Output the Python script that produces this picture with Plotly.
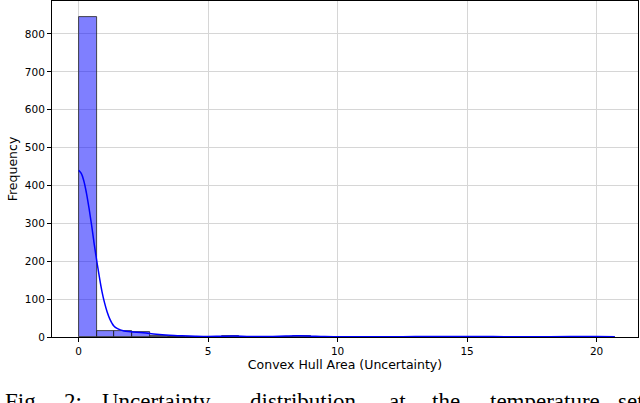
import numpy as np
import plotly.graph_objects as go

# histogram: 30 bins over the observed range
data_min = 0.0
data_max = 20.7
bin_counts = [845, 17, 15, 12, 3, 1, 1, 0, 2, 1, 1, 1, 2, 1, 1,
              1, 0, 0, 1, 1, 1, 1, 1, 1, 0, 0, 1, 1, 1, 1]

# kde curve (scaled to counts)
kde_x = [0, 0.1, 0.2, 0.3, 0.4, 0.5, 0.6, 0.7, 0.8, 0.9, 1.0, 1.1, 1.2, 1.35,
         1.5, 1.75, 2.0, 2.5, 3.0, 3.5, 4.0, 4.5, 5.0, 5.5, 6.0, 6.5, 7.0,
         7.5, 8.0, 8.5, 9.0, 9.5, 10, 11, 12, 13, 14, 15, 16, 17, 18, 19,
         20, 20.7]
kde_y = [440, 432, 412, 380, 340, 295, 245, 200, 158, 120, 90, 66, 48, 30,
         22, 16, 14, 11, 7, 4.5, 3, 2, 1.5, 2, 2.5, 1.5, 1, 1.5, 2.5, 3, 2,
         1, 0.8, 0.8, 0.8, 1, 1.2, 1.5, 1.2, 0.5, 0.8, 1, 1, 0.8]

x_ticks = [0, 5, 10, 15, 20]
y_ticks = [0, 100, 200, 300, 400, 500, 600, 700, 800]

caption_words = ["Fig.", "2:", "Uncertainty", "distribution", "at", "the",
                 "temperature", "set"]
caption_left_px = [3, 62, 100, 248, 387, 430, 488, 616]

edges = np.linspace(data_min, data_max, len(bin_counts) + 1)
centers = (edges[:-1] + edges[1:]) / 2
width = edges[1] - edges[0]

fig = go.Figure()
fig.add_trace(go.Bar(
    x=centers, y=bin_counts, width=width,
    marker=dict(color="rgba(0,0,255,0.5)", line=dict(color="#222222", width=0.8)),
    showlegend=False,
))
fig.add_trace(go.Scatter(
    x=kde_x, y=kde_y, mode="lines",
    line=dict(color="#0000ff", width=1.5, shape="spline"),
    showlegend=False,
))

L, R, T, B = 52, 2, 1, 66
plot_w = 640 - L - R
plot_h = 403 - T - B

for word, px in zip(caption_words, caption_left_px):
    fig.add_annotation(
        text=word, x=(px - L) / plot_w, y=-(387 - (403 - B)) / plot_h,
        xref="paper", yref="paper", xanchor="left", yanchor="top",
        showarrow=False,
        font=dict(family="Liberation Serif", size=23, color="#000000"),
    )

axis_common = dict(
    showline=True, linecolor="#000000", linewidth=1, mirror=True,
    ticks="outside", ticklen=4, tickcolor="#000000",
    showgrid=True, gridcolor="#d6d6d6", gridwidth=1,
    zeroline=False, layer="above traces", automargin=False,
    tickfont=dict(family="DejaVu Sans", size=10.5, color="#000000"),
)

fig.update_layout(
    width=640, height=403,
    margin=dict(l=L, r=R, t=T, b=B),
    paper_bgcolor="white", plot_bgcolor="white",
    bargap=0,
    xaxis=dict(range=[-1.03, 21.6], tickvals=x_ticks,
               title=dict(text="Convex Hull Area (Uncertainty)", standoff=4,
                          font=dict(family="DejaVu Sans", size=12.5, color="#000000")),
               **axis_common),
    yaxis=dict(range=[0, 887], tickvals=y_ticks,
               title=dict(text="Frequency", standoff=4,
                          font=dict(family="DejaVu Sans", size=12.5, color="#000000")),
               **axis_common),
)

# page body has a default margin; drop it so the figure fills the window
fig.write_html("out.html", config={"displayModeBar": False},
               post_script="document.body.style.margin = '0';")
